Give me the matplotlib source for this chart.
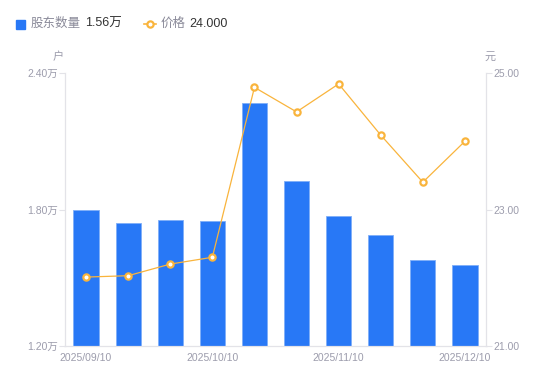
import matplotlib
matplotlib.use("Agg")
import matplotlib.pyplot as plt
from matplotlib.lines import Line2D

plt.rcParams['font.family'] = ['Liberation Sans', 'Noto Sans CJK SC', 'DejaVu Sans']

# data
dates = ["2025/09/10", "2025/09/20", "2025/09/30", "2025/10/10", "2025/10/20",
         "2025/10/31", "2025/11/10", "2025/11/20", "2025/11/30", "2025/12/10"]
holders = [1.80, 1.742, 1.752, 1.748, 2.267, 1.924, 1.773, 1.689, 1.579, 1.556]  # 万户
price = [22.01, 22.03, 22.20, 22.30, 24.79, 24.43, 24.84, 24.09, 23.40, 24.00]
left_ticks = [1.20, 1.80, 2.40]
right_ticks = [21.00, 23.00, 25.00]

bar_color = "#2878F6"
line_color = "#F9B43C"
axis_color = "#E3E3E8"
label_color = "#9C9CAC"

fig = plt.figure(figsize=(5.5, 3.81), dpi=100)
ax = fig.add_axes([65/550, 1 - 346/381, 421/550, 273/381])
x = list(range(len(dates)))

ax.bar(x, holders, width=0.6, color=bar_color, edgecolor="#7FAEF8", linewidth=0.6, zorder=2)
ax.set_ylim(1.2, 2.4)
ax.set_xlim(-0.5, len(dates) - 0.5)
ax.set_yticks(left_ticks)
ax.set_yticklabels([f"{v:.2f}万" for v in left_ticks])
ax.set_xticks(x[::3])
ax.set_xticklabels(dates[::3])

ax2 = ax.twinx()
ax2.plot(x, price, color=line_color, linewidth=0.9, marker="o", markersize=4.5,
         markerfacecolor="white", markeredgecolor=line_color, markeredgewidth=1.6, zorder=3)
ax2.set_ylim(21, 25)
ax2.set_yticks(right_ticks)
ax2.set_yticklabels([f"{v:.2f}" for v in right_ticks])

for a in (ax, ax2):
    for s in a.spines.values():
        s.set_color(axis_color)
        s.set_linewidth(0.8)
    a.spines["top"].set_visible(False)
    a.tick_params(colors=axis_color, labelcolor=label_color, labelsize=7.5, length=4, width=0.8)
ax.tick_params(axis="x", length=0, pad=5)
ax.tick_params(axis="y", pad=1)
ax2.tick_params(axis="y", pad=1)

# unit labels
fig.text(58/550, 1 - 57/381, "户", color=label_color, fontsize=8, ha="center", va="center")
fig.text(490/550, 1 - 57/381, "元", color=label_color, fontsize=8, ha="center", va="center")

# legend row
fig.patches.append(plt.Rectangle((16/550, 1 - 29/381), 9/550, 9/381, transform=fig.transFigure,
                                 color=bar_color))
fig.text(31/550, 1 - 24/381, "股东数量", color="#8A8A99", fontsize=9, va="center")
fig.text(85/550, 1 - 24/381, "1.56万", color="#333333", fontsize=9, va="center")
fig.lines.append(Line2D([144/550, 156/550], [1 - 24/381, 1 - 24/381], transform=fig.transFigure,
                        color=line_color, linewidth=1.2))
fig.lines.append(Line2D([150/550], [1 - 24/381], transform=fig.transFigure, color=line_color,
                        marker="o", markersize=4.5, markerfacecolor="white", markeredgewidth=1.6))
fig.text(161/550, 1 - 24/381, "价格", color="#8A8A99", fontsize=9, va="center")
fig.text(189/550, 1 - 24/381, "24.000", color="#333333", fontsize=9, va="center")

fig.savefig("out.png", dpi=100)
